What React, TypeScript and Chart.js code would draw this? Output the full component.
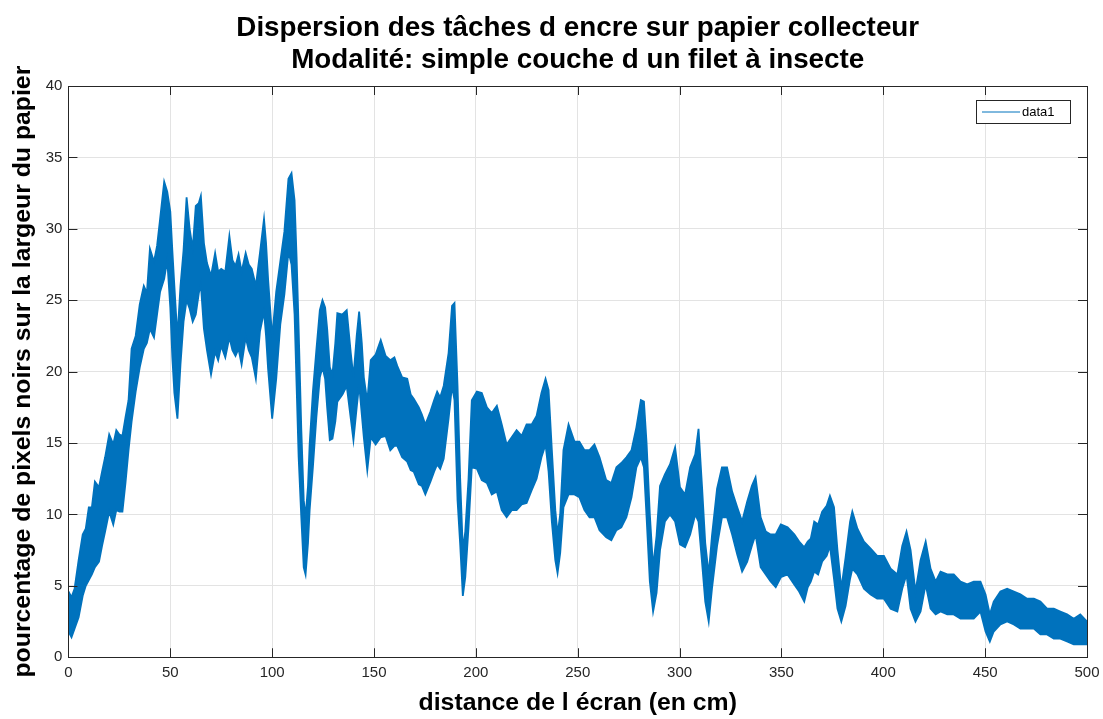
import { useEffect, useRef } from "react";
import { Chart, registerables } from "chart.js";

Chart.register(...registerables);

const TITLE_LINES = [
  "Dispersion des tâches d encre sur papier collecteur",
  "Modalité: simple couche d un filet à insecte",
];
const X_LABEL = "distance de l écran (en cm)";
const Y_LABEL = "pourcentage de pixels noirs sur la largeur du papier";
const SERIES_NAME = "data1";

const X_TICKS = [0, 50, 100, 150, 200, 250, 300, 350, 400, 450, 500];
const Y_TICKS = [0, 5, 10, 15, 20, 25, 30, 35, 40];

// distance (cm) of each read-off point
const X_CM = [
  0, 1.5, 3, 5, 7, 8.5, 10, 11.5, 13, 15,
  16.5, 18, 20, 22, 23.5, 25, 26.5, 28, 29.5, 31,
  33, 35, 37, 38.5, 40, 42, 43.5, 45, 47, 48.5,
  50, 51, 52, 53.5, 55, 56.5, 58, 59.5, 61, 62.5,
  64, 65, 66.5, 68, 70, 72, 73.5, 75, 77, 79,
  80.5, 82, 83.5, 85, 87, 88.5, 90, 92, 94, 96,
  97, 98, 100, 102, 104, 106, 108, 109.5, 111, 112,
  113, 114.3, 115.5, 116.4, 117.6, 118.4, 120, 121.7, 123.4, 124.7,
  126, 127, 128.3, 129.6, 131, 132, 134.5, 136.6, 138.6, 139.9,
  141.5, 142.7, 144, 145, 146.7, 148.4, 150.8, 153.3, 155.7, 158,
  160, 161.4, 163.8, 166.3, 168, 169.5, 172, 173.5, 175.2, 177.7,
  179.5, 181, 182.5, 184.2, 186.6, 188.3, 189.5, 191, 192.3, 193.6,
  194.8, 196.4, 198, 200.5, 202.9, 205.4, 207.8, 210.3, 212.7, 215.1,
  217.6, 220, 222.5, 224.9, 227.4, 229.8, 232.2, 234.2, 235.7, 237.3,
  239, 240.1, 241.4, 243, 245.5, 248.4, 250.8, 253.3, 255.8, 258.2,
  260.7, 264, 266.5, 269, 271.4, 273.9, 276.4, 278.8, 281, 282.5,
  283.8, 285.4, 287, 288.7, 290.4, 292.8, 295.3, 297.8, 300.2, 302.7,
  305.2, 307.7, 309.3, 311, 312.6, 314.3, 315.9, 318.4, 320.8, 323.3,
  325.8, 328.3, 330.7, 333.2, 335.5, 337.3, 339.8, 342.3, 344.7, 347.2,
  349.7, 353, 356.3, 358.7, 361.2, 362.9, 364.4, 366.1, 368, 370,
  372.2, 373.8, 375.8, 377.5, 379.4, 381.5, 383.7, 384.8, 387.3, 390.5,
  393.8, 397, 400.3, 403.6, 406.9, 409.3, 411.4, 413.4, 415.8, 418.3,
  420.8, 423.2, 425.7, 428.1, 431.4, 434.6, 437.9, 441.2, 444.4, 447.7,
  450.2, 452.3, 454.2, 457.5, 460.8, 464.1, 467.3, 470.6, 473.9, 477.1,
  480.4, 483.7, 486.9, 490.2, 493.5, 496.7, 500,
];

// upper edge of the noisy trace (%)
const HIGH = [
  4.6, 4.2, 4.8, 6.8, 8.6, 9, 10.5, 10.5, 12.3, 11.9,
  13, 14, 15.6, 14.9, 15.9, 15.6, 15.5, 16.8, 18, 21.6,
  22.5, 24.7, 26, 25.5, 28.6, 27.7, 28.8, 30.7, 33.3, 32.6,
  31.2, 28.5, 26, 22.4, 26, 28.5, 32.2, 30, 28.6, 31.6,
  31.8, 32.3, 29, 27.6, 26.7, 28.3, 27, 27.2, 27, 29.5,
  27.8, 27.4, 28.2, 27, 28.3, 27.5, 27.2, 26, 28.3, 30.7,
  29, 26.5, 22.4, 25.6, 27.7, 29.8, 33.5, 33.9, 32, 28,
  23, 16, 11, 9.8, 12, 14.9, 18.6, 21.5, 24.3, 25,
  24.5, 23, 20.3, 19.8, 22, 24.1, 24, 24.3, 21.3, 19.6,
  22.5, 24.2, 22, 19.6, 17.9, 20.8, 21.2, 22.2, 21.1, 20.8,
  21, 20.4, 19.6, 19.5, 18.4, 18.1, 17.5, 17, 16.3, 17.2,
  18, 18.6, 18.2, 19, 21.3, 24.6, 24.8, 19, 12.5, 7.5,
  8.8, 12.5, 18, 18.6, 18.5, 17.5, 17.1, 17.6, 16.3, 14.9,
  15.4, 15.9, 15.5, 16.3, 16.3, 16.9, 18.5, 19.5, 18.7, 14.5,
  10.3, 8.6, 10, 14.5, 16.3, 15.1, 15.1, 14.5, 14.5, 14.9,
  14, 12.4, 12.2, 13.3, 13.6, 14, 14.5, 16.1, 18, 17.9,
  15, 10, 6.3, 8.5, 12, 12.8, 13.5, 14.7, 11.9, 11.4,
  13.3, 14.2, 16, 12, 8, 5.8, 8.5, 11.8, 13.3, 13.3,
  11.6, 10.5, 9.5, 10.9, 12, 12.6, 9.8, 8.8, 8.6, 8.6,
  9.3, 9.1, 8.6, 8.1, 7.7, 8.1, 8.3, 9.5, 9.3, 10.2,
  10.6, 11.3, 10.5, 7.5, 4.8, 7, 9.5, 10.2, 9, 8.1,
  7.6, 7.1, 7.1, 6.2, 5.8, 7.8, 8.8, 7.5, 4.6, 6.8,
  8.1, 6.2, 5.3, 6, 5.8, 5.8, 5.3, 5.1, 5.3, 5.3,
  4.4, 3, 3.9, 4.6, 4.8, 4.6, 4.4, 4.1, 4.1, 3.9,
  3.4, 3.4, 3.2, 3, 2.7, 3, 2.5,
];

// lower edge of the noisy trace (%)
const LOW = [
  1.8, 1.4, 2, 2.8, 4.3, 5, 5.4, 5.8, 6.3, 6.7,
  7.8, 8.8, 10.2, 9.3, 10.3, 10.2, 10.2, 12.2, 14.5, 16.5,
  18.6, 20.3, 21.6, 22, 23, 22.4, 24, 25.6, 26.5, 27.8,
  24.5, 21, 18.5, 16.7, 20.5, 23.5, 25, 24.4, 23.5, 24,
  25.5, 26.1, 23, 21.5, 19.8, 21.4, 20.8, 21.8, 21, 22.4,
  21.5, 21.1, 21.6, 20.5, 22.4, 21.5, 21, 19.5, 22.8, 24.2,
  22.5, 20.2, 16.7, 19.5, 23.3, 25.4, 28.4, 27.5, 24, 19,
  14, 9.8, 6.3, 5.8, 8, 10.3, 13.3, 16.8, 19.6, 20.3,
  19.5, 17.5, 15.2, 15.3, 16.5, 17.9, 18.4, 19, 16.7, 15.2,
  17.5, 19.1, 17, 15.4, 13.1, 15.4, 14.9, 15.4, 15.5, 14.5,
  14.8, 14.8, 14, 13.7, 13.1, 13, 12.1, 12, 11.4, 12.3,
  13, 13.5, 13.2, 13.9, 16.7, 19, 18, 11, 7.9, 4.3,
  5.6, 9.1, 13.3, 13.2, 12.4, 12.2, 11.4, 11.6, 10.3, 9.8,
  10.3, 10.3, 10.7, 10.8, 11.7, 12.5, 14, 14.9, 13, 9.5,
  6.8, 5.9, 7.3, 10.5, 11.4, 11.4, 11.2, 10.3, 9.8, 9.8,
  8.9, 8.4, 8.2, 8.9, 9.1, 9.8, 11.2, 13.3, 14, 13.3,
  9.8, 5.3, 3.2, 4.5, 7.5, 9.5, 10, 9.5, 7.9, 7.7,
  8.6, 10, 9.5, 6.7, 3.9, 2.5, 4.8, 7.8, 9.8, 9.8,
  8.6, 7.2, 6, 6.7, 7.8, 8.6, 6.3, 5.8, 5.3, 4.9,
  5.6, 5.8, 5.1, 4.6, 3.9, 4.9, 5.3, 6, 5.8, 6.7,
  7.1, 7.8, 5.5, 3.4, 2.5, 3.6, 5.5, 6.2, 5.8, 4.8,
  4.4, 4.1, 4.1, 3.4, 3.2, 4.8, 5.8, 3.4, 2.5, 3.2,
  5.1, 3.4, 3, 3.2, 3, 3, 2.7, 2.7, 2.7, 3.2,
  1.8, 1.1, 1.8, 2.3, 2.5, 2.3, 2, 2, 2, 1.6,
  1.6, 1.3, 1.3, 1.1, 0.9, 0.9, 0.9,
];

const BLUE = "#0072BD";
const AXIS = "#262626";
const GRID = "#e3e3e3";
const FONT = "'Liberation Sans', Arial, Helvetica, sans-serif";

const matlabFrame = {
  id: "matlabFrame",
  afterDatasetsDraw(chart: any) {
    const { ctx, chartArea } = chart;
    const { left, right, top, bottom } = chartArea;
    const xs = chart.scales.x;
    const ys = chart.scales.y;
    const tl = 9;
    ctx.save();
    ctx.strokeStyle = AXIS;
    ctx.lineWidth = 1;
    ctx.beginPath();
    ctx.rect(Math.round(left) + 0.5, Math.round(top) + 0.5, Math.round(right - left), Math.round(bottom - top));
    X_TICKS.forEach((v) => {
      const px = Math.round(xs.getPixelForValue(v)) + 0.5;
      ctx.moveTo(px, bottom);
      ctx.lineTo(px, bottom - tl);
      ctx.moveTo(px, top);
      ctx.lineTo(px, top + tl);
    });
    Y_TICKS.forEach((v) => {
      const py = Math.round(ys.getPixelForValue(v)) + 0.5;
      ctx.moveTo(left, py);
      ctx.lineTo(left + tl, py);
      ctx.moveTo(right, py);
      ctx.lineTo(right - tl, py);
    });
    ctx.stroke();
    ctx.restore();
  },
  afterDraw(chart: any) {
    const { ctx, chartArea } = chart;
    const label = chart.data.datasets[0].label;
    const bw = 94;
    const bh = 23;
    const bx = chartArea.right - 111;
    const by = chartArea.top + 14;
    ctx.save();
    ctx.fillStyle = "#ffffff";
    ctx.fillRect(bx, by, bw, bh);
    ctx.strokeStyle = AXIS;
    ctx.lineWidth = 1;
    ctx.strokeRect(bx + 0.5, by + 0.5, bw, bh);
    ctx.strokeStyle = BLUE;
    ctx.beginPath();
    ctx.moveTo(bx + 6, by + bh / 2 + 0.5);
    ctx.lineTo(bx + 44, by + bh / 2 + 0.5);
    ctx.stroke();
    ctx.fillStyle = "#000000";
    ctx.font = `13px ${FONT}`;
    ctx.textBaseline = "middle";
    ctx.textAlign = "left";
    ctx.fillText(label, bx + 46, by + bh / 2 + 1);
    ctx.restore();
  },
};

export default function App() {
  const ref = useRef<HTMLCanvasElement | null>(null);

  useEffect(() => {
    document.body.style.margin = "0";
    const canvas = ref.current;
    if (!canvas) return;
    const n = Math.min(X_CM.length, HIGH.length, LOW.length);
    const upper = [];
    const lower = [];
    for (let i = 0; i < n; i++) {
      upper.push({ x: X_CM[i], y: HIGH[i] });
      lower.push({ x: X_CM[i], y: LOW[i] });
    }
    const chart = new Chart(canvas, {
      type: "line",
      data: {
        datasets: [
          {
            label: SERIES_NAME,
            data: upper,
            borderColor: BLUE,
            backgroundColor: BLUE,
            borderWidth: 1.8,
            pointRadius: 0,
            fill: false,
            tension: 0,
          },
          {
            label: "lower",
            data: lower,
            borderColor: BLUE,
            backgroundColor: BLUE,
            borderWidth: 1.8,
            pointRadius: 0,
            fill: "-1",
            tension: 0,
          },
        ],
      },
      options: {
        responsive: false,
        animation: false,
        events: [],
        layout: { padding: { left: 8, right: 16, top: 0, bottom: 0 } },
        plugins: {
          legend: { display: false },
          tooltip: { enabled: false },
          title: {
            display: true,
            fullSize: false,
            text: TITLE_LINES,
            color: "#000000",
            font: { family: FONT, size: 27.8, weight: "bold", lineHeight: "32px" },
            padding: { top: 12, bottom: 10 },
          },
        },
        scales: {
          x: {
            type: "linear",
            min: 0,
            max: 500,
            afterBuildTicks: (s: any) => {
              s.ticks = X_TICKS.map((v) => ({ value: v }));
            },
            afterFit: (s: any) => {
              s.paddingRight = 0;
              s.paddingLeft = 0;
            },
            ticks: {
              color: AXIS,
              font: { family: FONT, size: 15, lineHeight: 1.0 },
              padding: 8,
              maxRotation: 0,
            },
            grid: { color: GRID, drawTicks: false },
            border: { display: true, color: AXIS },
            title: {
              display: true,
              text: X_LABEL,
              color: "#000000",
              font: { family: FONT, size: 24.8, weight: "bold", lineHeight: 1.2 },
              padding: { top: 0, bottom: 1 },
            },
          },
          y: {
            type: "linear",
            min: 0,
            max: 40,
            afterBuildTicks: (s: any) => {
              s.ticks = Y_TICKS.map((v) => ({ value: v }));
            },
            ticks: {
              color: AXIS,
              font: { family: FONT, size: 15, lineHeight: 1.2 },
              padding: 6,
            },
            grid: { color: GRID, drawTicks: false },
            border: { display: true, color: AXIS },
            title: {
              display: true,
              text: Y_LABEL,
              color: "#000000",
              font: { family: FONT, size: 24.8, weight: "bold", lineHeight: 1.2 },
              padding: { top: 0, bottom: 2 },
            },
          },
        },
      },
      plugins: [matlabFrame],
    });
    return () => chart.destroy();
  }, []);

  return (
    <div style={{ width: 1103, height: 719, background: "#ffffff" }}>
      <canvas ref={ref} width={1103} height={719} style={{ display: "block" }} />
    </div>
  );
}
